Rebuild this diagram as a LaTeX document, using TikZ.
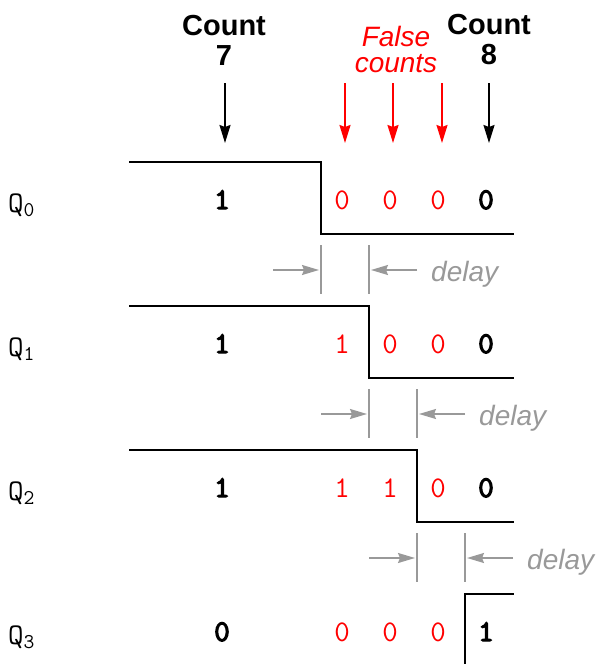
\documentclass[tikz,border=0pt]{standalone}
\usepackage{fontspec}
\setmainfont{Liberation Sans}
\newfontfamily\bitfont{Latin Modern Mono}
\newfontfamily\boldbitfont{Latin Modern Mono}[FakeBold=4]
\usetikzlibrary{arrows.meta}
\definecolor{falsered}{RGB}{255,0,0}
\definecolor{delaygray}{RGB}{153,153,153}

\begin{document}
\begin{tikzpicture}[x=1pt, y=-1pt,
  wave/.style={line width=2pt, line join=miter},
  tick/.style={line width=1.6pt, draw=delaygray},
  pointer/.style={-{Stealth[length=18pt,width=11pt,inset=2pt]}, line width=1.8pt},
  gap/.style={-{Stealth[length=17pt,width=10pt,inset=2pt]}, line width=1.6pt, draw=delaygray},
  bit/.style={font=\bitfont\fontsize{30}{30}\selectfont, inner sep=0pt, anchor=base},
  truebit/.style={bit, font=\boldbitfont\fontsize{30}{30}\selectfont},
  falsebit/.style={bit, text=falsered},
  qlabel/.style={font=\bitfont\fontsize{30}{30}\selectfont, inner sep=0pt, anchor=base west},
  delaytext/.style={font=\itshape\fontsize{28}{28}\selectfont, text=delaygray, inner sep=0pt, anchor=base west}]
  \useasboundingbox (0,0) rectangle (600,664);

  % Count labels and pointers
  \node[font=\bfseries\fontsize{29}{30}\selectfont, align=center] (cnt7) at (224,40) {Count\\7};
  \node[font=\bfseries\fontsize{29}{30}\selectfont, align=center] (cnt8) at (489,40) {Count\\8};
  \node[font=\itshape\fontsize{28}{26}\selectfont, align=center, text=falsered, inner sep=0pt] (fcnt) at (396,49) {False\\counts};
  \coordinate (p7a) at (225,83);  \coordinate (p7b) at (225,143);
  \coordinate (p8a) at (489,83);  \coordinate (p8b) at (489,143);
  \coordinate (f1a) at (345,83);  \coordinate (f1b) at (345,143);
  \coordinate (f2a) at (393,83);  \coordinate (f2b) at (393,143);
  \coordinate (f3a) at (442,83);  \coordinate (f3b) at (442,143);
  \draw[pointer] (p7a) -- (p7b);
  \draw[pointer] (p8a) -- (p8b);
  \draw[pointer, falsered] (f1a) -- (f1b);
  \draw[pointer, falsered] (f2a) -- (f2b);
  \draw[pointer, falsered] (f3a) -- (f3b);

  % Waveforms
  \draw[wave] (129,162) -- (321,162) -- (321,234) -- (514,234);
  \draw[wave] (129,306) -- (369,306) -- (369,378) -- (514,378);
  \draw[wave] (129,450) -- (417,450) -- (417,522) -- (514,522);
  \draw[wave] (465,670) -- (465,594) -- (514,594);

  % Bit names
  \node[qlabel] (q0) at (8,212) {Q\textsubscript{0}};
  \node[qlabel] (q1) at (8,356) {Q\textsubscript{1}};
  \node[qlabel] (q2) at (8,500) {Q\textsubscript{2}};
  \node[qlabel] (q3) at (8,644) {Q\textsubscript{3}};

  % Bit values
  \node[truebit] (b01) at (222,209) {1};
  \node[falsebit] (b02) at (342,209) {0};
  \node[falsebit] (b03) at (390,209) {0};
  \node[falsebit] (b04) at (438,209) {0};
  \node[truebit] (b05) at (486,209) {0};
  \node[truebit] (b11) at (222,353) {1};
  \node[falsebit] (b12) at (342,353) {1};
  \node[falsebit] (b13) at (390,353) {0};
  \node[falsebit] (b14) at (438,353) {0};
  \node[truebit] (b15) at (486,353) {0};
  \node[truebit] (b21) at (222,497) {1};
  \node[falsebit] (b22) at (342,497) {1};
  \node[falsebit] (b23) at (390,497) {1};
  \node[falsebit] (b24) at (438,497) {0};
  \node[truebit] (b25) at (486,497) {0};
  \node[truebit] (b31) at (222,641) {0};
  \node[falsebit] (b32) at (342,641) {0};
  \node[falsebit] (b33) at (390,641) {0};
  \node[falsebit] (b34) at (438,641) {0};
  \node[truebit] (b35) at (486,641) {1};

  % Propagation delays
  \draw[tick] (321,245) -- (321,294);
  \draw[tick] (369,245) -- (369,294);
  \draw[gap] (273,270) -- (319,270);
  \draw[gap] (417,270) -- (371,270);
  \node[delaytext] (d0) at (431,281) {delay};
  \draw[tick] (369,389) -- (369,438);
  \draw[tick] (417,389) -- (417,438);
  \draw[gap] (321,414) -- (367,414);
  \draw[gap] (465,414) -- (419,414);
  \node[delaytext] (d1) at (479,425) {delay};
  \draw[tick] (417,533) -- (417,582);
  \draw[tick] (465,533) -- (465,582);
  \draw[gap] (369,558) -- (415,558);
  \draw[gap] (513,558) -- (467,558);
  \node[delaytext] (d2) at (527,569) {delay};
\end{tikzpicture}
\end{document}
